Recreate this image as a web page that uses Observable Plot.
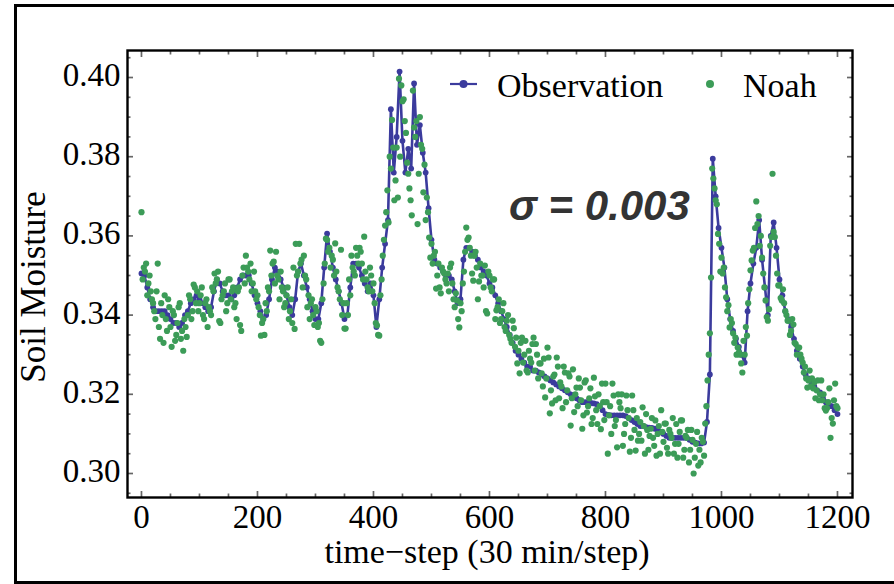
<!DOCTYPE html>
<html><head><meta charset="utf-8">
<script src="https://cdn.jsdelivr.net/npm/d3@7"></script>
<script src="https://cdn.jsdelivr.net/npm/@observablehq/plot@0.6"></script>
<style>
html,body{margin:0;padding:0;background:#fff;overflow:hidden;}
#wrap{position:relative;width:894px;height:584px;overflow:hidden;background:#fff;}
#border{position:absolute;left:14px;top:4px;width:1000px;height:580px;border:3px solid #000;box-sizing:border-box;}
#chart{position:absolute;left:0;top:0;}
#over{position:absolute;left:0;top:0;pointer-events:none;}
</style>
</head><body>
<div id="wrap"><div id="border"></div><div id="chart"></div>
<svg id="over" width="894" height="584"></svg></div>
<script>
// ---- data ----
const obsStep = 5;   // observation sampled every 5 time-steps, t = 0..1200
const observation = [
 .3505,.350,.347,.344,.342,.341,.341,.341,.341,.340,.339,.338,.338,.337,.338,.340,.341,.343,.344,.345,.344,
 .343,.342,.341,.342,.346,.349,.348,.346,.345,.345,.344,.345,.347,.349,.350,.350,.350,.348,.345,.343,
 .341,.339,.340,.344,.349,.352,.351,.349,.347,.345,.342,.340,.344,.351,.353,.350,.347,.344,.341,.339,
 .339,.343,.352,.3606,.356,.352,.349,.346,.343,.339,.340,.347,.353,.353,.352,.350,.348,.346,.348,.345,
 .337,.344,.352,.358,.364,.392,.376,.385,.4015,.384,.376,.382,.377,.3985,.383,.388,.381,.376,.367,.359,
 .354,.353,.352,.351,.350,.350,.349,.346,.343,.344,.354,.357,.357,.356,.355,.354,.352,.351,.350,.348,
 .347,.345,.343,.341,.339,.337,.335,.333,.331,.330,.329,.328,.327,.327,.326,.326,.3255,.325,.3245,.324,
 .3235,.323,.3225,.322,.3215,.321,.3205,.320,.3195,.319,.3185,.318,.318,.318,.3178,.3177,.3175,.317,.316,.315,
 .3148,.3147,.3147,.3147,.3147,.3147,.3145,.314,.3135,.313,.3125,.312,.312,.3117,.3116,.3115,.3113,.311,.3105,.310,
 .3095,.309,.309,.309,.309,.309,.309,.309,.3085,.308,.3078,.3076,.3076,.3078,.313,.325,.3795,.370,.362,.357,
 .352,.344,.339,.336,.334,.332,.330,.328,.341,.348,.353,.357,.364,.354,.347,.340,.360,.3634,.357,.349,
 .345,.341,.339,.337,.334,.331,.329,.327,.325,.324,.323,.322,.321,.3205,.319,.318,.3175,.317,.316,.315
];
const noahStep = 4;  // Noah, t = 0, 4, 8, ..., 1200
const noah = [
 .366,.352,.353,.348,.346,.343,.339,.353,.334,.340,.345,.336,.342,.332,.340,.335,.342,.334,.331,.337,.340,.344,.341,.347,.346,
 .343,.347,.339,.344,.342,.340,.346,.348,.351,.338,.345,.348,.343,.349,.346,.342,.339,.347,.336,.352,.355,.351,.353,.348,.346,
 .345,.340,.338,.335,.341,.346,.350,.3535,.356,.349,.351,.346,.343,.347,.341,.338,.3365,.350,.358,.354,.355,.349,.345,.343,.340,
 .342,.337,.3335,.344,.353,.359,.357,.355,.350,.351,.346,.3565,.343,.3366,.340,.345,.352,.350,.355,.357,.353,.3598,.349,.346,.350,
 .348,.338,.335,.345,.355,.3626,.3715,.380,.3893,.369,.3823,.3997,.398,.3945,.386,.3757,.369,.3967,.385,.363,.390,.382,.378,.3697,.3596,
 .358,.355,.3467,.353,.3455,.351,.349,.3505,.352,.348,.342,.3437,.3369,.341,.351,.3621,.3596,.355,.3487,.356,.344,.353,.350,.3525,.3404,
 .350,.346,.349,.3412,.344,.339,.343,.336,.340,.334,.3386,.332,.3278,.3253,.3343,.330,.326,.331,.328,.3343,.3327,.324,.3278,.322,.3192,
 .3318,.3152,.3177,.325,.3293,.319,.322,.327,.318,.3253,.3121,.3263,.320,.317,.3217,.3113,.323,.3154,.319,.3125,.3242,.316,.320,.3112,.318,
 .3227,.305,.317,.3227,.312,.3066,.318,.320,.310,.3197,.314,.309,.316,.3058,.3083,.313,.3167,.305,.311,.3095,.314,.307,.3045,.312,.316,
 .308,.3126,.305,.310,.314,.3075,.304,.3105,.3134,.306,.309,.3028,.311,.300,.3075,.302,.3028,.308,.3126,.3235,.3354,.377,.372,.368,.358,
 .3545,.352,.3445,.3425,.339,.3354,.3343,.3318,.330,.3255,.330,.3348,.3465,.3538,.357,.3687,.365,.360,.3505,.3437,.3386,.3575,.3757,.3597,.3505,
 .3475,.3437,.343,.340,.3386,.336,.3376,.3327,.3318,.330,.328,.327,.3217,.326,.324,.323,.321,.3185,.3235,.320,.3159,.318,.309,.3126,.3227,
 .3165
];
const noahOffsetStart = 2; // Noah, t = 2, 6, 10, ..., 1198
const noahOffset = [
 .349,.351,.345,.350,.344,.341,.346,.337,.343,.333,.339,.344,.337,.341,.3335,.338,.343,.336,.339,.3345,.345,.339,.3477,.343,.341,
 .345,.340,.343,.337,.341,.347,.3505,.349,.3385,.344,.346,.341,.349,.344,.347,.343,.346,.3375,.350,.348,.352,.349,.346,.351,.344,
 .342,.3348,.339,.343,.347,.3563,.353,.348,.350,.344,.347,.342,.345,.339,.344,.352,.358,.351,.353,.347,.350,.342,.339,.344,.3375,
 .341,.338,.333,.348,.3593,.356,.352,.354,.3581,.347,.344,.340,.3366,.343,.349,.355,.351,.357,.353,.356,.349,.351,.347,.352,.346,
 .343,.3374,.3348,.349,.359,.366,.3634,.377,.3823,.374,.3697,.380,.394,.389,.3785,.372,.3652,.3874,.389,.3757,.383,.371,.364,.366,.3545,
 .353,.356,.350,.347,.352,.3505,.348,.346,.353,.344,.3455,.339,.343,.348,.356,.359,.357,.3505,.355,.352,.3485,.350,.347,.341,.351,
 .347,.349,.339,.342,.338,.341,.337,.3386,.335,.333,.3367,.3343,.331,.333,.328,.3335,.3255,.329,.3327,.326,.330,.3278,.3253,.329,.324,
 .3293,.321,.3245,.3185,.327,.323,.3165,.3255,.321,.3245,.319,.3155,.3217,.324,.3185,.3147,.3235,.317,.3215,.314,.3195,.3125,.317,.3227,.3135,
 .318,.3147,.310,.3197,.3135,.320,.3165,.307,.3125,.316,.3055,.3197,.311,.314,.310,.3083,.312,.315,.306,.3113,.309,.3134,.310,.305,.3105,
 .3126,.3065,.311,.309,.305,.3125,.3075,.3134,.304,.3095,.311,.306,.3085,.304,.3105,.306,.309,.3045,.317,.330,.3495,.3745,.369,.3605,.351,
 .3505,.347,.341,.3369,.338,.333,.330,.3305,.3278,.3335,.337,.343,.3513,.3563,.362,.363,.3575,.3545,.347,.3395,.3415,.3597,.361,.355,.3475,
 .3443,.3465,.341,.3386,.335,.339,.333,.330,.3318,.329,.3255,.324,.3235,.322,.3215,.319,.3235,.320,.3185,.3165,.3165,.3215,.314,.3185,.317
];
const seriesNames = ["Observation", "Noah"];
const xTicks = [0, 200, 400, 600, 800, 1000, 1200];
const yTicks = [0.30, 0.32, 0.34, 0.36, 0.38, 0.40];
const xLabel = "time\u2212step (30 min/step)";
const yLabel = "Soil Moisture";
const annotation = "\u03c3 = 0.003";

// ---- styling ----
const BLUE = "#3b3b9d", GREEN = "#3c9c58", TICK = "#666";
const SERIF = "'Liberation Serif', 'Times New Roman', serif";

const obsData = observation.map((v, i) => ({t: i * obsStep, v}));
const noahData = noah.map((v, i) => ({t: i * noahStep, v}))
  .concat(noahOffset.map((v, i) => ({t: noahOffsetStart + i * noahStep, v})));
const xMinor = d3.range(0, 1201, 50).filter(d => !xTicks.includes(d));
const yMinor = d3.range(0.295, 0.4051, 0.005).map(d => +d.toFixed(3)).filter(d => !yTicks.some(t => Math.abs(t - d) < 1e-6));

const tickOpts = {fill: "none", stroke: TICK, strokeWidth: 1.7, label: null};
const plot = Plot.plot({
  width: 894, height: 584,
  marginLeft: 127, marginRight: 42, marginTop: 50, marginBottom: 87,
  x: {domain: [-24.1, 1225.9]},
  y: {domain: [0.29394, 0.40682]},
  style: {fontFamily: SERIF, fontSize: "33px", background: "transparent", color: "#000"},
  marks: [
    Plot.line(obsData, {x: "t", y: "v", stroke: BLUE, strokeWidth: 2.6}),
    Plot.dot(obsData, {x: "t", y: "v", r: 2.9, fill: BLUE}),
    Plot.dot(noahData, {x: "t", y: "v", r: 3.1, fill: GREEN}),
    Plot.axisX(xTicks, {anchor: "bottom", tickSize: 0, tickPadding: 7, label: null, fill: "#000", fontSize: 33, tickFormat: d => String(d)}),
    Plot.axisY(yTicks, {anchor: "left", tickSize: 0, tickPadding: 7, label: null, fill: "#000", fontSize: 33, tickFormat: d => d.toFixed(2), dy: -2}),
    Plot.axisX(xTicks, {anchor: "bottom", tickSize: -6, ...tickOpts}),
    Plot.axisX(xMinor, {anchor: "bottom", tickSize: -3.5, ...tickOpts}),
    Plot.axisX(xTicks, {anchor: "top", tickSize: -6, ...tickOpts}),
    Plot.axisX(xMinor, {anchor: "top", tickSize: -3.5, ...tickOpts}),
    Plot.axisY(yTicks, {anchor: "left", tickSize: -6, ...tickOpts}),
    Plot.axisY(yMinor, {anchor: "left", tickSize: -3.5, ...tickOpts}),
    Plot.axisY(yTicks, {anchor: "right", tickSize: -6, ...tickOpts}),
    Plot.axisY(yMinor, {anchor: "right", tickSize: -3.5, ...tickOpts}),
    Plot.frame({stroke: "#000", strokeWidth: 2.4})
  ]
});
document.getElementById("chart").appendChild(plot);

// ---- overlay: axis titles, legend, annotation ----
const svg = d3.select("#over");
svg.append("text").attr("transform", "translate(45,287) rotate(-90)")
  .attr("text-anchor", "middle").attr("font-family", SERIF).attr("font-size", 35).text(yLabel);
svg.append("text").attr("x", 487).attr("y", 563).attr("text-anchor", "middle")
  .attr("font-family", SERIF).attr("font-size", 34).text(xLabel);
// legend
svg.append("line").attr("x1", 450).attr("x2", 477).attr("y1", 84).attr("y2", 84).attr("stroke", BLUE).attr("stroke-width", 2.2);
svg.append("circle").attr("cx", 463.5).attr("cy", 84).attr("r", 4).attr("fill", BLUE);
svg.append("text").attr("x", 497).attr("y", 97).attr("font-family", SERIF).attr("font-size", 34).text(seriesNames[0]);
svg.append("circle").attr("cx", 710).attr("cy", 84).attr("r", 4).attr("fill", GREEN);
svg.append("text").attr("x", 743).attr("y", 97).attr("font-family", SERIF).attr("font-size", 34).text(seriesNames[1]);
// sigma annotation
svg.append("text").attr("x", 509).attr("y", 220)
  .attr("font-family", "'Liberation Sans', Arial, sans-serif").attr("font-weight", "bold").attr("font-style", "italic")
  .attr("font-size", 42).attr("fill", "#333").text(annotation);
</script>
</body></html>
